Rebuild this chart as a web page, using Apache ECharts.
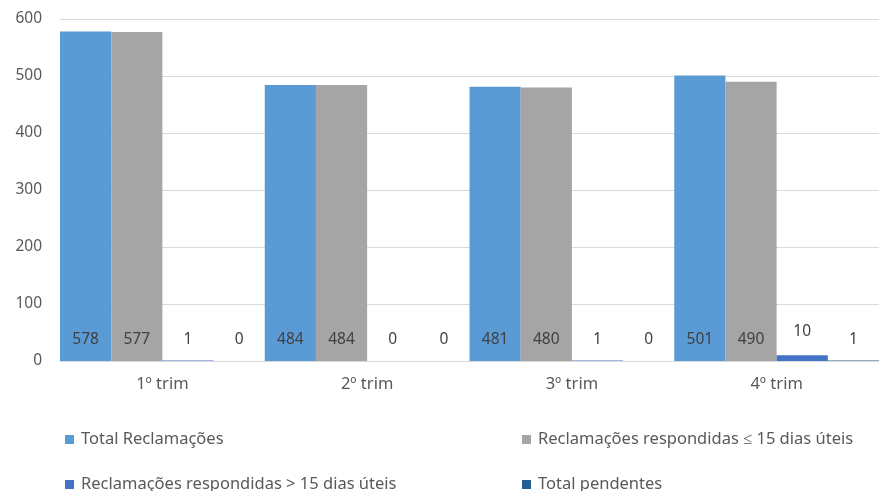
<!DOCTYPE html>
<html><head><meta charset="utf-8">
<script src="https://cdn.jsdelivr.net/npm/echarts@6/dist/echarts.min.js"></script>
<style>html,body{margin:0;padding:0;background:#fff}#c{width:879px;height:491px}</style>
</head><body><div id="c"></div>
<script>
const categories = ['1º trim', '2º trim', '3º trim', '4º trim'];
const seriesNames = ['Total Reclamações', 'Reclamações respondidas ≤ 15 dias úteis', 'Reclamações respondidas > 15 dias úteis', 'Total pendentes'];
const totalReclamacoes = [578, 484, 481, 501];
const respondidasAte15 = [577, 484, 480, 490];
const respondidasMais15 = [1, 0, 1, 10];
const totalPendentes = [0, 0, 0, 1];
const yTicks = [0, 100, 200, 300, 400, 500, 600];

const colors = ['#5B9BD5', '#A5A5A5', '#4472C4', '#255E91'];
const values = [totalReclamacoes, respondidasAte15, respondidasMais15, totalPendentes];
const font = 'Noto Sans';

const chart = echarts.init(document.getElementById('c'));
const legendPos = [[60, 426], [517, 426], [60, 471], [517, 471]];
chart.setOption({
  animation: false,
  textStyle: { fontFamily: font },
  grid: { left: 60, top: 19, bottom: 130, right: -6 },
  xAxis: {
    type: 'category', data: categories,
    axisLine: { lineStyle: { color: '#D9D9D9' } },
    axisTick: { show: false },
    axisLabel: { color: '#595959', fontSize: 16.5, margin: 15, fontFamily: font }
  },
  yAxis: {
    type: 'value', min: yTicks[0], max: yTicks[yTicks.length - 1], interval: 100,
    axisLabel: { color: '#595959', fontSize: 15.5, margin: 18, fontFamily: font },
    splitLine: { lineStyle: { color: '#D9D9D9' } }
  },
  legend: seriesNames.map((n, i) => ({
    data: [n], left: legendPos[i][0], top: legendPos[i][1],
    icon: 'rect', itemWidth: 9, itemHeight: 9, itemGap: 5,
    textStyle: { color: '#595959', fontSize: 16.5, fontFamily: font, padding: [0, 0, 0, 2] }
  })),
  series: seriesNames.map((n, i) => ({
    name: n, type: 'bar', barGap: '0%', barCategoryGap: '0%',
    itemStyle: { color: colors[i] },
    data: values[i].map(v => (v >= 5 && v < 50) ? { value: v, label: { distance: 21 } } : v),
    label: { show: true, position: 'insideBottom', distance: 13, color: '#404040', fontSize: 15.5, fontFamily: font }
  }))
});
</script></body></html>
